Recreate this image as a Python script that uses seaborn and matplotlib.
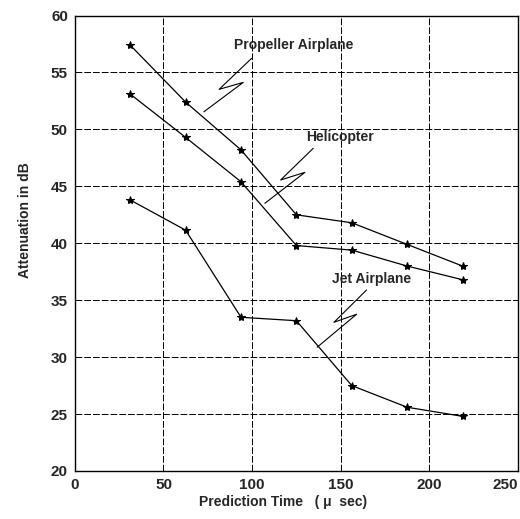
import pandas as pd
import matplotlib
matplotlib.use("Agg")
import matplotlib.pyplot as plt
import seaborn as sns

# prediction time in micro seconds
pred_time = [31.25, 62.5, 93.75, 125.0, 156.25, 187.5, 218.75]

propeller = [57.4, 52.4, 48.2, 42.5, 41.8, 39.9, 38.0]
helicopter = [53.1, 49.3, 45.4, 39.8, 39.4, 38.0, 36.8]
jet = [43.8, 41.15, 33.5, 33.2, 27.5, 25.6, 24.8]

series_names = ["Propeller Airplane", "Helicopter", "Jet Airplane"]

x_ticks = [0, 50, 100, 150, 200, 250]
y_ticks = [20, 25, 30, 35, 40, 45, 50, 55, 60]

# label positions and zigzag callouts (data coords)
label_pos = [(123.3, 57.4), (149.5, 49.3), (167.6, 36.9)]
zigzags = [
    [(99.7, 56.24), (81.4, 53.52), (95.0, 54.13), (72.8, 51.55)],
    [(134.5, 48.34), (116.1, 45.56), (129.8, 46.23), (107.2, 43.51)],
    [(164.6, 35.9), (146.2, 33.06), (159.0, 33.77), (136.7, 30.87)],
]

df = pd.DataFrame({
    "time": pred_time * 3,
    "atten": propeller + helicopter + jet,
    "source": [series_names[0]] * 7 + [series_names[1]] * 7 + [series_names[2]] * 7,
})

sns.set_style("white")
plt.rcParams["font.family"] = ["Liberation Sans", "DejaVu Sans"]

fig = plt.figure(figsize=(5.2, 5.19), dpi=100)
ax = fig.add_axes([0.144, 0.0925, 0.852, 0.8775])

for name in series_names:
    sub = df[df["source"] == name]
    sns.lineplot(data=sub, x="time", y="atten", ax=ax, color="black",
                 linewidth=0.9, marker="*", markersize=6,
                 markeredgecolor="black", markerfacecolor="black")

for name, (tx, ty), zz in zip(series_names, label_pos, zigzags):
    ax.text(tx, ty, name, ha="center", va="center", fontsize=10,
            fontweight="bold")
    ax.plot([p[0] for p in zz], [p[1] for p in zz], color="black",
            linewidth=0.8)

ax.set_xlim(0, 250)
ax.set_ylim(20, 60)
ax.set_xticks(x_ticks)
ax.set_yticks(y_ticks)
ax.tick_params(axis="both", length=0, pad=5, labelsize=11)
for lbl in ax.get_xticklabels() + ax.get_yticklabels():
    lbl.set_fontweight("bold")
# last x label sits against the figure edge
ax.get_xticklabels()[-1].set_horizontalalignment("right")

ax.grid(True, color="black", linestyle=(0, (7, 2)), linewidth=0.7)
for sp in ax.spines.values():
    sp.set_color("black")
    sp.set_linewidth(1.0)

ax.set_xlabel("Prediction Time   ( \u03bc  sec)", fontsize=10, fontweight="bold")
ax.set_ylabel("Attenuation in dB", fontsize=10, fontweight="bold")
ax.xaxis.set_label_coords(0.47, -0.052)
ax.yaxis.set_label_coords(-0.097, 0.55)

fig.savefig("out.png", dpi=100)
